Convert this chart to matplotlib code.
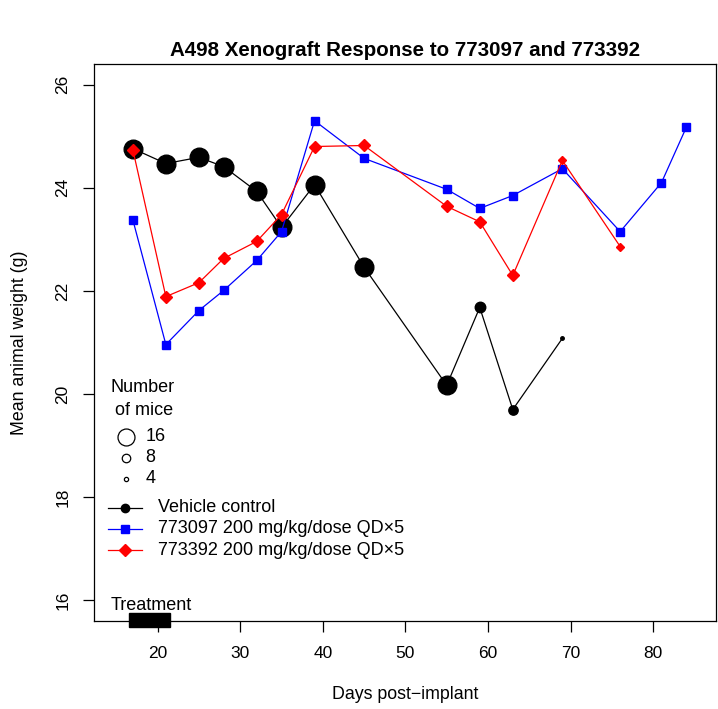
import matplotlib
matplotlib.use("Agg")
import matplotlib.pyplot as plt
from matplotlib.patches import Rectangle

plt.rcParams['font.family'] = ['Liberation Sans', 'DejaVu Sans']

title = "A498 Xenograft Response to 773097 and 773392"
xlabel = "Days post\u2212implant"
ylabel = "Mean animal weight (g)"

veh_days = [17, 21, 25, 28, 32, 35, 39, 45, 55, 59, 63, 69]
veh_wt = [24.76, 24.47, 24.59, 24.41, 23.93, 23.23, 24.06, 22.46, 20.17, 21.68, 19.70, 21.08]
veh_n = [16, 16, 16, 16, 16, 16, 16, 16, 16, 9, 8, 3]

c97_days = [17, 21, 25, 28, 32, 35, 39, 45, 55, 59, 63, 69, 76, 81, 84]
c97_wt = [23.38, 20.96, 21.62, 22.01, 22.59, 23.15, 25.30, 24.57, 23.97, 23.60, 23.85, 24.37, 23.15, 24.10, 25.17]

c92_days = [17, 21, 25, 28, 32, 35, 39, 45, 55, 59, 63, 69, 76]
c92_wt = [24.74, 21.89, 22.16, 22.63, 22.96, 23.48, 24.80, 24.82, 23.64, 23.34, 22.30, 24.53, 22.86]
c92_n = [8, 8, 8, 8, 8, 8, 8, 8, 8, 8, 8, 6, 6]

legend_labels = ["Vehicle control", "773097 200 mg/kg/dose QD\u00d75", "773392 200 mg/kg/dose QD\u00d75"]
size_legend_n = [16, 8, 4]
treat_start, treat_end = 16.5, 21.5

fig = plt.figure(figsize=(7.18, 7.09), dpi=100)
ax = fig.add_axes([94/718, 1-621/709, (716-94)/718, (621-64)/709])

def ms_from_n(n):
    return 1.06 * n * 0.72

# vehicle
ax.plot(veh_days, veh_wt, color='black', lw=0.9, zorder=2)
for d, w, n in zip(veh_days, veh_wt, veh_n):
    ax.plot([d], [w], marker='o', color='black', ms=ms_from_n(n) * 1.1, zorder=3)

# 773097
ax.plot(c97_days, c97_wt, color='blue', lw=0.9, marker='s', ms=6, mfc='blue', mec='blue', zorder=4)

# 773392
ax.plot(c92_days, c92_wt, color='red', lw=0.9, zorder=4)
for d, w, n in zip(c92_days, c92_wt, c92_n):
    ax.plot([d], [w], marker='D', color='red', ms=n * 0.75, zorder=5)

ax.set_xlim(12.3, 87.6)
ax.set_ylim(15.6, 26.4)
ax.set_xticks([20, 30, 40, 50, 60, 70, 80])
ax.set_yticks([16, 18, 20, 22, 24, 26])
ax.tick_params(axis='both', direction='out', length=8, width=0.9, labelsize=12.5)
ax.tick_params(axis='x', pad=10)
ax.tick_params(axis='y', pad=9)
for lab in ax.get_yticklabels():
    lab.set_rotation(90)
    lab.set_va('center')
for s in ax.spines.values():
    s.set_linewidth(0.9)

ax.set_title(title, fontsize=14.8, fontweight='bold', pad=6)
ax.set_xlabel(xlabel, fontsize=12.8, labelpad=18)
ax.set_ylabel(ylabel, fontsize=12.8, labelpad=20)

# size legend
ax.text(14.28, 20.12, "Number", fontsize=13, va='center', ha='left')
ax.text(14.28, 19.69, " of mice", fontsize=13, va='center', ha='left')
for i, n in enumerate(size_legend_n):
    yy = 19.17 - i * 0.405
    ax.plot([16.2], [yy], marker='o', mfc='none', mec='black', mew=0.9, ms=n * 1.06 * 0.72, clip_on=False)
    ax.text(18.5, yy, str(n), fontsize=13, va='center', ha='left')

# series legend
cols = ['black', 'blue', 'red']
mks = ['o', 's', 'D']
for i, (lab, c, m) in enumerate(zip(legend_labels, cols, mks)):
    yy = 17.80 - i * 0.415
    ax.plot([14.04, 18.15], [yy, yy], color=c, lw=0.9)
    ax.plot([16.1], [yy], marker=m, color=c, ms=6)
    ax.text(20.08, yy, lab, fontsize=13, va='center', ha='left')

# treatment
ax.text(14.28, 15.90, "Treatment", fontsize=13, va='center', ha='left')
ax.add_patch(Rectangle((treat_start, 15.48), treat_end - treat_start, 0.27, facecolor='black',
                       edgecolor='black', clip_on=False, zorder=6))

fig.savefig("out.png", dpi=100)
